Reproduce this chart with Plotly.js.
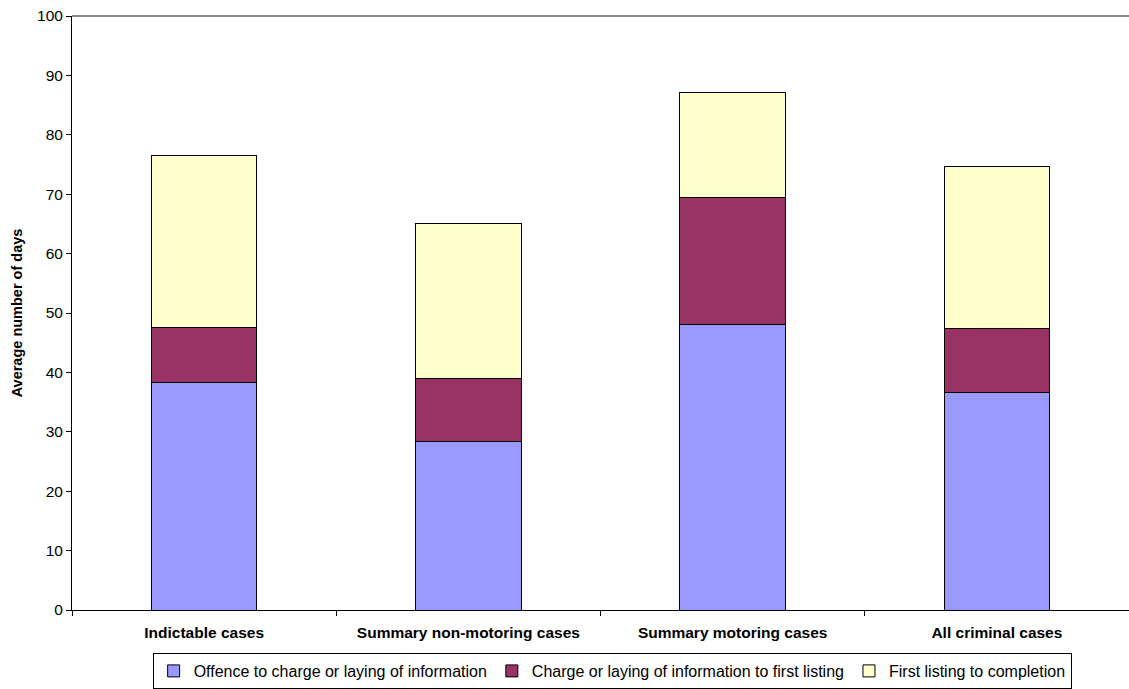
<!DOCTYPE html>
<html>
<head>
<meta charset="utf-8">
<script src="https://cdn.plot.ly/plotly-3.0.1.min.js"></script>
<style>
  html, body { margin: 0; padding: 0; background: #fff; }
  #chart { width: 1129px; height: 689px; }
</style>
</head>
<body>
<div id="chart"></div>
<script>
const categories = ["Indictable cases", "Summary non-motoring cases", "Summary motoring cases", "All criminal cases"];
const seriesNames = ["Offence to charge or laying of information", "Charge or laying of information to first listing", "First listing to completion"];
const offenceToCharge = [38.3, 28.3, 48.1, 36.7];
const chargeToFirstListing = [9.3, 10.6, 21.4, 10.7];
const firstListingToCompletion = [28.9, 26.1, 17.7, 27.2];
const seriesColors = ["#9999FF", "#993366", "#FFFFCC"];
const yTickValues = [0, 10, 20, 30, 40, 50, 60, 70, 80, 90, 100];

const FONT = "Liberation Sans, Arial, sans-serif";
const seriesValues = [offenceToCharge, chargeToFirstListing, firstListingToCompletion];

const traces = seriesValues.map((vals, i) => ({
  type: "bar",
  name: seriesNames[i],
  x: categories,
  y: vals,
  marker: { color: seriesColors[i], line: { color: "#000000", width: 1 } },
  hoverinfo: "x+y+name"
}));

const layout = {
  width: 1129,
  height: 689,
  margin: { l: 72, r: 0, t: 16, b: 78, pad: 0 },
  paper_bgcolor: "#ffffff",
  plot_bgcolor: "#ffffff",
  barmode: "stack",
  bargap: 0.6,
  font: { family: FONT, color: "#000000", size: 15 },
  showlegend: true,
  legend: {
    orientation: "h",
    x: 0.511,
    xanchor: "center",
    y: -0.072,
    yanchor: "top",
    bordercolor: "#000000",
    borderwidth: 1,
    font: { family: FONT, size: 16, color: "#000000" },
    traceorder: "normal",
    itemwidth: 30
  },
  xaxis: {
    type: "category",
    showline: true,
    linecolor: "#000000",
    linewidth: 1,
    ticks: "outside",
    tickson: "boundaries",
    ticklen: 5,
    tickcolor: "#000000",
    showgrid: false,
    zeroline: false,
    ticklabelstandoff: 8,
    tickfont: { family: FONT, size: 15.5, weight: "bold", color: "#000000" },
    automargin: false
  },
  yaxis: {
    range: [0, 100],
    tickvals: yTickValues,
    showline: true,
    linecolor: "#000000",
    linewidth: 1,
    ticks: "outside",
    ticklen: 5,
    tickcolor: "#000000",
    showgrid: false,
    zeroline: false,
    tickfont: { family: FONT, size: 15.5, color: "#000000" },
    title: { text: "Average number of days", font: { family: FONT, size: 14.5, weight: "bold", color: "#000000" }, standoff: 10 },
    automargin: false
  },
  shapes: [
    { type: "line", xref: "paper", yref: "paper", x0: 0, x1: 1, y0: 1, y1: 1, line: { color: "#8c8c8c", width: 2 } }
  ]
};

Plotly.newPlot("chart", traces, layout, { displayModeBar: false, staticPlot: true });
</script>
</body>
</html>
